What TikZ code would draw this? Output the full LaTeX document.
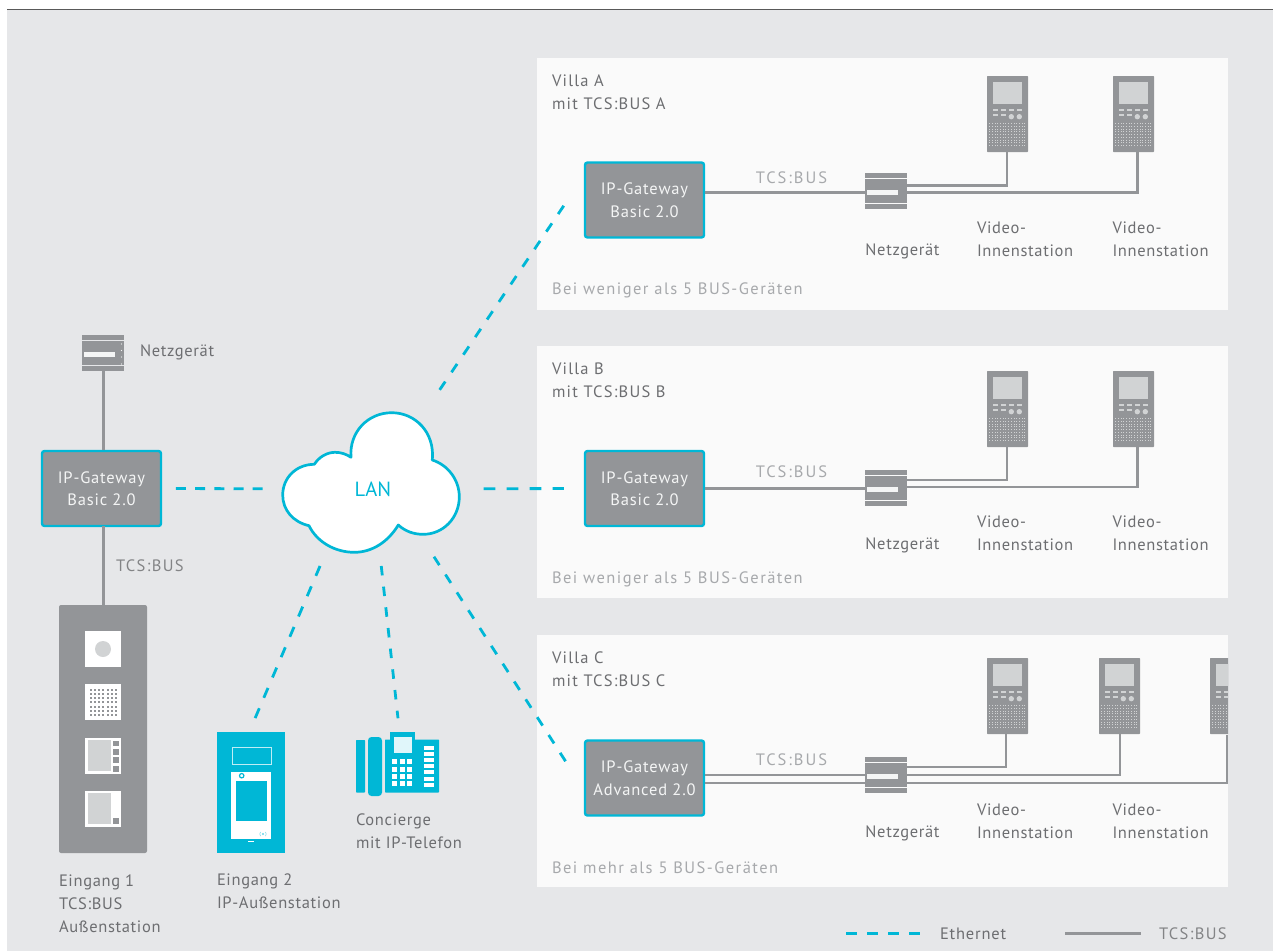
\documentclass[tikz,border=0pt]{standalone}
\usepackage{fontspec}
\setmainfont{PT Sans}
\usetikzlibrary{calc}
\definecolor{bg}{HTML}{E6E7E9}
\definecolor{panel}{HTML}{FAFAFA}
\definecolor{gr}{HTML}{939598}
\definecolor{lg}{HTML}{D1D3D4}
\definecolor{cy}{HTML}{00B7D6}
\definecolor{tx}{HTML}{6D6E71}
\definecolor{tl}{HTML}{A7A9AC}
\definecolor{wt}{HTML}{F4F5F5}
\newcommand{\fsz}[1]{\fontsize{16.5}{23}\selectfont\addfontfeature{LetterSpace=#1}}
\tikzset{
 txt/.style={inner sep=0pt,outer sep=0pt,anchor=west,text=tx,align=left,font=\fsz{4}},
 txv/.style={txt,font=\fsz{7.5}},
 txl/.style={txt,text=tl,font=\fsz{8.8}},
 txb/.style={txt,text=tl,anchor=center,font=\fsz{12}},
 txc/.style={txt,font=\fsz{8.5},text=tx!85},
 gw/.style={draw=cy,fill=gr,line width=2.4pt,rounded corners=2.5pt,minimum width=119pt,minimum height=75pt,inner sep=0pt,text=wt,align=center,font=\fontsize{16.5}{22.5}\selectfont\addfontfeature{LetterSpace=5}},
 eth/.style={draw=cy,line width=2.8pt,dash pattern=on 10pt off 11.2pt},
 bus/.style={draw=gr,line width=2.4pt},
 dev/.style={inner sep=0pt,outer sep=0pt,draw=none,minimum width=#1},
}
% power supply: name, left, top
\newcommand{\psu}[4][]{%
 \node[dev=42pt,minimum height=36pt,anchor=north west] (#2) at (#3,#4) {};
 \begin{scope}[shift={(#3,#4)}]
 \fill[gr] (0,0) rectangle (42,5);
 \fill[gr] (0,6) rectangle (42,30);
 \fill[gr] (0,31) rectangle (42,36);
 \fill[wt] (2,17) rectangle (33,22);
 #1
 \end{scope}}
% video station: name, left, top
\newcommand{\vid}[3]{%
 \node[dev=41pt,minimum height=76pt,anchor=north west] (#1) at (#2,#3) {};
 \begin{scope}[shift={(#2,#3)}]
 \fill[gr,rounded corners=.7pt] (0,0) rectangle (41,76);
 \fill[lg] (5.7,6) rectangle (35,28);
 \foreach \i in {0,1,2,3}{\fill[lg] (5.7+8*\i,33.2) rectangle ++(5.3,1.6);}
 \foreach \i in {0,1}{\fill[lg] (5.7+8*\i,38.2) rectangle ++(5.3,1.6);}
 \fill[lg] (24.3,40.7) circle (2.7);
 \fill[lg] (32.3,40.7) circle (2.7);
 \foreach \i in {0,...,13}{\foreach \j in {0,...,8}{\fill[lg] (2.7+2.7*\i-.45,47.5+2.75*\j-.45) rectangle ++(.9,.9);}}
 \end{scope}}
\begin{document}
\begin{tikzpicture}[x=1pt,y=-1pt]
\useasboundingbox (0,0) rectangle (1273,951);
\fill[white] (0,0) rectangle (1273,951);
\fill[bg] (7,10) rectangle (1273,951);
\draw[line width=1pt,color=black!65] (7,9.6) -- (1273,9.6);
% panels
\fill[panel] (537,58) rectangle (1228,310);
\fill[panel] (537,346) rectangle (1228,598);
\fill[panel] (537,635) rectangle (1228,887);
% texts in panels
\node[txv] (ta) at (552,92) {Villa A\\mit TCS:BUS A};
\node[txv] (tb) at (552,380) {Villa B\\mit TCS:BUS B};
\node[txv] (tc) at (552,669) {Villa C\\mit TCS:BUS C};
\node[txl] (wa) at (552,290) {Bei weniger als 5 BUS-Geräten};
\node[txl] (wb) at (552,579) {Bei weniger als 5 BUS-Geräten};
\node[txl] (wc) at (552,868) {Bei mehr als 5 BUS-Geräten};
% gateways
\node[gw] (gwL) at (101.5,488.5) {IP-Gateway\\Basic 2.0};
\node[gw] (gwA) at (644.5,200) {IP-Gateway\\Basic 2.0};
\node[gw] (gwB) at (644.5,488.5) {IP-Gateway\\Basic 2.0};
\node[gw] (gwC) at (644.5,778) {IP-Gateway\\Advanced 2.0};
% Villa A
\psu{pa}{865}{173}
\vid{va1}{987}{76}
\vid{va2}{1113}{76}
\draw[bus] (gwA.east |- pa.west) ++(0,1.5) coordinate (ga) -- (ga -| pa.west);
\draw[bus] ($(pa.east)+(0,-5.5)$) -| (va1.south -| 1007,0);
\draw[bus] ($(pa.east)+(0,1.5)$) -| (va2.south -| 1137.5,0);
\node[txb] (ba) at (791.5,178) {TCS:BUS};
\node[txt,anchor=center] (na) at (902.5,251.5) {Netzgerät};
\node[txt] (ia1) at (977,239) {Video-\\Innenstation};
\node[txt] (ia2) at (1112.5,239) {Video-\\Innenstation};
% Villa B
\psu{pb}{865}{470}
\vid{vb1}{987}{371}
\vid{vb2}{1113}{371}
\draw[bus] (gwB.east) -- (gwB.east -| pb.west);
\draw[bus] ($(pb.east)+(0,-8)$) -| (vb1.south -| 1007,0);
\draw[bus] ($(pb.east)+(0,-1)$) -| (vb2.south -| 1137.5,0);
\node[txb] (bb) at (791.5,472) {TCS:BUS};
\node[txt,anchor=center] (nb) at (902.5,545.5) {Netzgerät};
\node[txt] (ib1) at (977,533.5) {Video-\\Innenstation};
\node[txt] (ib2) at (1112.5,533.5) {Video-\\Innenstation};
% Villa C
\psu{pc}{865}{757}
\vid{vc1}{987}{658}
\vid{vc2}{1099}{658}
\begin{scope}
\clip (1200,640) rectangle (1228,800);
\vid{vc3}{1210}{658}
\end{scope}
\draw[bus] ($(gwC.east)+(0,-3)$) -- ($(pc.west)+(0,0)$);
\draw[bus] ($(gwC.east)+(0,5)$) -- ($(pc.west)+(0,8)$);
\draw[bus] ($(pc.east)+(0,-8)$) -| (vc1.south -| 1006,0);
\draw[bus] (pc.east) -| (vc2.south -| 1120,0);
\draw[bus] ($(pc.east)+(0,8)$) -- (1228,783);
\draw[bus] (1227,735) -- (1227,783);
\node[txb] (bc) at (791.5,760) {TCS:BUS};
\node[txt,anchor=center] (nc) at (902.5,833.5) {Netzgerät};
\node[txt] (ic1) at (977,821) {Video-\\Innenstation};
\node[txt] (ic2) at (1112.5,821) {Video-\\Innenstation};
% left column
\psu[{\foreach \y in {9,15.5,22,29}{\fill[wt] (39.5,\y) circle (.6);}}]{pl}{82}{335}
\node[txt] (nl) at (140,352) {Netzgerät};
\draw[bus] (pl.south -| gwL.north) ++(2,0) -- ++(0,79);
\draw[bus] (103.5,526) -- (103.5,605);
\node[txc] (bl) at (116,566) {TCS:BUS};
% entrance 1
\node[dev=88pt,minimum height=248pt,anchor=north west] (e1) at (59,605) {};
\fill[gr,rounded corners=2pt] (59,605) rectangle (147,853);
\fill[white] (85,631) rectangle (121,667);
\fill[lg] (103,649) circle (8);
\fill[white] (85,684) rectangle (121,720);
\foreach \i in {0,...,6}{\foreach \j in {0,...,6}{\fill[gr] (90.8+4.2*\i-1,689.8+4.2*\j-1) rectangle ++(2,2);}}
\fill[white] (85,738) rectangle (121,774);
\fill[lg] (88,740) rectangle (111,771);
\foreach \y in {740.5,749,757.3,766}{\fill[gr] (113,\y) rectangle ++(6,5.6);}
\fill[white] (85,791) rectangle (121,827);
\fill[lg] (88,793) rectangle (111,824);
\fill[gr] (113,818) rectangle (119,824);
\node[txt] (te1) at (59,903.5) {Eingang 1\\TCS:BUS\\Außenstation};
% entrance 2
\node[dev=68pt,minimum height=121pt,anchor=north west] (e2) at (217,732) {};
\fill[cy] (217,732) rectangle (285,853);
\draw[white!75!cy,line width=.8pt] (232,747) rectangle (271,764.5);
\fill[white] (231,772) rectangle (271,839);
\fill[cy] (236,781) rectangle (267,821);
\draw[cy,line width=1.2pt] (241.7,775.7) circle (2.2);
\fill[cy!60] (263,834) circle (1.1);
\draw[cy!60,line width=.5pt] (260.5,832) -- (259.8,834) -- (260.5,836) (265.5,832) -- (266.2,834) -- (265.5,836);
\fill[white] (248,841) rectangle (254,841.8);
\node[txt] (te2) at (217,891.5) {Eingang 2\\IP-Außenstation};
% phone
\node[dev=83pt,minimum height=64pt,anchor=north west] (ph) at (356,732) {};
\fill[cy,rounded corners=.7pt] (356,740) rectangle (365,792.5);
\fill[cy,rounded corners=3.5pt] (368,737) rectangle (382,796);
\fill[cy,rounded corners=.7pt] (385,739.5) rectangle (439,792.5);
\fill[cy] (390,732) rectangle (415,745);
\fill[cy!12] (394,737) rectangle (411.5,752.5);
\foreach \y in {759,767,773.5,781}{\foreach \x in {392,400,407}{\fill[white] (\x,\y) rectangle ++(5,5);}}
\foreach \i in {0,...,6}{\fill[white] (424,746+6.1*\i) rectangle ++(10,4);}
\node[txt] (tp) at (356,831.5) {Concierge\\mit IP-Telefon};
% cloud
\filldraw[draw=cy,fill=white,line width=2.7pt,line join=round]
 (351,457.3) .. controls (349,432) and (368,412.7) .. (391.7,412.7)
 .. controls (415,412.7) and (435,432) .. (432.3,460)
 .. controls (448,465) and (459.3,480) .. (459.3,496.7)
 .. controls (459.3,518) and (443,534.3) .. (423.3,534.3)
 .. controls (413,534.3) and (405,531) .. (398.3,525)
 .. controls (388,542) and (372,552.3) .. (354.3,552.3)
 .. controls (335,552.3) and (317,542) .. (309,525.7)
 .. controls (293,522) and (282.7,510) .. (282.7,495)
 .. controls (282.7,478) and (296,464.3) .. (314.3,464.3)
 .. controls (319,457) and (327,452.3) .. (335,452.3)
 .. controls (341,452.3) and (346,454) .. (351,457.3) -- cycle;
\node[inner sep=0pt,text=cy,font=\fontsize{20.5}{24}\selectfont] (lan) at (372.8,489) {LAN};
% ethernet
\draw[eth,dash pattern=on 10pt off 9.2pt,shorten <=13.7pt,shorten >=110pt] (gwL.east) -- (lan.center);
\draw[eth,dash pattern=on 11.7pt off 11.3pt,shorten <=110.8pt,shorten >=20pt] (lan.center) -- (gwB.west);
\draw[eth,shorten <=119.6pt,shorten >=35.6pt] (lan.center) -- ($(gwA.north west)!0.19!(gwA.south west)$);
\draw[eth,shorten <=80.5pt,shorten >=33pt] ($(lan.center)+(17.6,0)$) -- ($(gwC.north west)!0.65!(gwC.south west)$);
\draw[eth,dash pattern=on 9.5pt off 11.3pt,shorten <=77.4pt,shorten >=13.8pt] (lan.center) -- ($(ph.north)+(2,0)$);
\draw[eth,dash pattern=on 10.7pt off 11.4pt,shorten <=83.7pt,shorten >=14.9pt] ($(lan.center)+(-19.9,0)$) -- ($(e2.north)+(-1.8,0)$);
% legend
\coordinate (l1) at (846,933.5); \coordinate (l2) at (921,933.5);
\coordinate (l3) at (1065,933.5); \coordinate (l4) at (1141,933.5);
\draw[eth,dash pattern=on 10.8pt off 10.2pt] (l1) -- (l2);
\draw[bus] (l3) -- (l4);
\node[txt,font=\fsz{5}] (le) at (940,933.5) {Ethernet};
\node[txc] (lb) at (1159,933.5) {TCS:BUS};
\end{tikzpicture}
\end{document}
